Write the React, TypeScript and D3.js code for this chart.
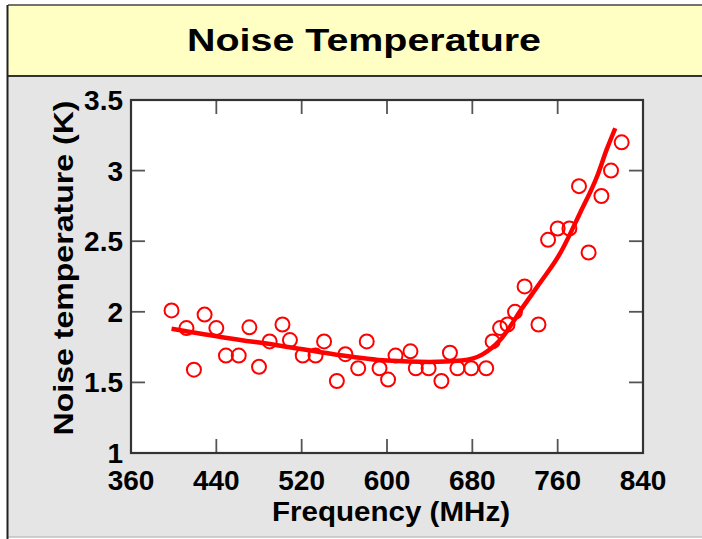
import React, { useEffect, useRef } from "react";
import * as d3 from "d3";

// measured points
const freq = [398, 412, 419, 429, 440, 449, 461, 471, 480, 490, 502, 509, 521, 533, 541, 553, 561, 573, 581, 593, 601, 608, 622, 627, 639, 651, 659, 666, 679, 693, 699, 706, 713, 720, 729, 742, 751, 760, 771, 780, 789, 801, 810, 820];
const temp = [2.01, 1.885, 1.59, 1.98, 1.885, 1.69, 1.69, 1.89, 1.61, 1.79, 1.91, 1.8, 1.69, 1.69, 1.79, 1.51, 1.7, 1.6, 1.79, 1.6, 1.52, 1.69, 1.72, 1.6, 1.6, 1.51, 1.71, 1.6, 1.6, 1.6, 1.79, 1.885, 1.91, 2.0, 2.18, 1.91, 2.51, 2.59, 2.59, 2.89, 2.42, 2.82, 3.0, 3.2];

// fitted curve
const fitFreq = [398, 450, 500, 550, 600, 640, 670, 690, 706, 728, 743, 762, 781, 797, 806, 814];
const fitTemp = [1.88, 1.815, 1.76, 1.7, 1.655, 1.645, 1.655, 1.7, 1.8, 2.04, 2.2, 2.41, 2.7, 2.96, 3.15, 3.3];

const xTicks = [360, 440, 520, 600, 680, 760, 840];
const yTicks = [1, 1.5, 2, 2.5, 3, 3.5];

const App = () => {
  const ref = useRef<SVGSVGElement>(null);

  useEffect(() => {
    const svg = d3.select(ref.current);
    svg.selectAll("*").remove();
    const font = "'Liberation Sans', Arial, Helvetica, sans-serif";

    // background panels
    svg.append("rect").attr("x", 0).attr("y", 0).attr("width", 702).attr("height", 539).attr("fill", "#ffffff");
    svg.append("rect").attr("x", 8).attr("y", 76).attr("width", 720).attr("height", 461).attr("fill", "#e5e5e5");
    svg.append("rect").attr("x", 8).attr("y", 5).attr("width", 720).attr("height", 71).attr("fill", "#ffffc4");
    svg.append("line").attr("x1", 8).attr("x2", 720).attr("y1", 5).attr("y2", 5).attr("stroke", "#444").attr("stroke-width", 1.5);
    svg.append("line").attr("x1", 8).attr("x2", 720).attr("y1", 76).attr("y2", 76).attr("stroke", "#333").attr("stroke-width", 2);
    svg.append("line").attr("x1", 8).attr("x2", 720).attr("y1", 537).attr("y2", 537).attr("stroke", "#c0c0c0").attr("stroke-width", 1.5);
    svg.append("line").attr("x1", 7.5).attr("x2", 7.5).attr("y1", 5).attr("y2", 539).attr("stroke", "#222").attr("stroke-width", 2);

    svg.append("text")
      .attr("x", 364).attr("y", 51)
      .attr("text-anchor", "middle")
      .attr("font-family", font).attr("font-weight", "bold").attr("font-size", 31)
      .attr("textLength", 354).attr("lengthAdjust", "spacingAndGlyphs")
      .text("Noise Temperature");

    const left = 131, right = 643, top = 100, bottom = 453;
    const x = d3.scaleLinear().domain([360, 840]).range([left, right]);
    const y = d3.scaleLinear().domain([1, 3.5]).range([bottom, top]);

    svg.append("rect").attr("x", left).attr("y", top).attr("width", right - left).attr("height", bottom - top).attr("fill", "#fff");

    const tl = 14;
    const ticks = svg.append("g").attr("stroke", "#555").attr("stroke-width", 1.8);
    xTicks.slice(1, -1).forEach((t) => {
      ticks.append("line").attr("x1", x(t)).attr("x2", x(t)).attr("y1", bottom).attr("y2", bottom - tl);
      ticks.append("line").attr("x1", x(t)).attr("x2", x(t)).attr("y1", top).attr("y2", top + tl);
    });
    yTicks.slice(1, -1).forEach((t) => {
      ticks.append("line").attr("x1", left).attr("x2", left + tl).attr("y1", y(t)).attr("y2", y(t));
      ticks.append("line").attr("x1", right).attr("x2", right - tl).attr("y1", y(t)).attr("y2", y(t));
    });

    svg.append("g")
      .selectAll("text")
      .data(xTicks)
      .enter()
      .append("text")
      .attr("x", (d) => x(d)).attr("y", 490)
      .attr("text-anchor", "middle")
      .attr("font-family", font).attr("font-weight", "bold").attr("font-size", 28)
      .text((d) => d);

    svg.append("g")
      .selectAll("text")
      .data(yTicks)
      .enter()
      .append("text")
      .attr("x", 123).attr("y", (d) => y(d) + 10)
      .attr("text-anchor", "end")
      .attr("font-family", font).attr("font-weight", "bold").attr("font-size", 28)
      .text((d) => d);

    svg.append("text")
      .attr("x", 391).attr("y", 521)
      .attr("text-anchor", "middle")
      .attr("font-family", font).attr("font-weight", "bold").attr("font-size", 28)
      .attr("textLength", 238).attr("lengthAdjust", "spacingAndGlyphs")
      .text("Frequency (MHz)");

    svg.append("text")
      .attr("transform", "translate(73,268) rotate(-90)")
      .attr("text-anchor", "middle")
      .attr("font-family", font).attr("font-weight", "bold").attr("font-size", 28)
      .attr("textLength", 335).attr("lengthAdjust", "spacingAndGlyphs")
      .text("Noise temperature (K)");

    const line = d3.line<number>()
      .x((d, i) => x(fitFreq[i]))
      .y((d) => y(d))
      .curve(d3.curveMonotoneX);
    svg.append("path")
      .attr("d", line(fitTemp))
      .attr("fill", "none")
      .attr("stroke", "#ff0000")
      .attr("stroke-width", 4.5);

    svg.append("g")
      .selectAll("circle")
      .data(freq)
      .enter()
      .append("circle")
      .attr("cx", (d) => x(d))
      .attr("cy", (d, i) => y(temp[i]))
      .attr("r", 7)
      .attr("fill", "none")
      .attr("stroke", "#ff0000")
      .attr("stroke-width", 2);

    svg.append("rect").attr("x", left).attr("y", top).attr("width", right - left).attr("height", bottom - top)
      .attr("fill", "none").attr("stroke", "#333").attr("stroke-width", 2.2);
  }, []);

  return (
    <svg
      ref={ref}
      width={702}
      height={539}
      style={{ position: "absolute", left: 0, top: 0, display: "block" }}
    />
  );
};

export default App;
